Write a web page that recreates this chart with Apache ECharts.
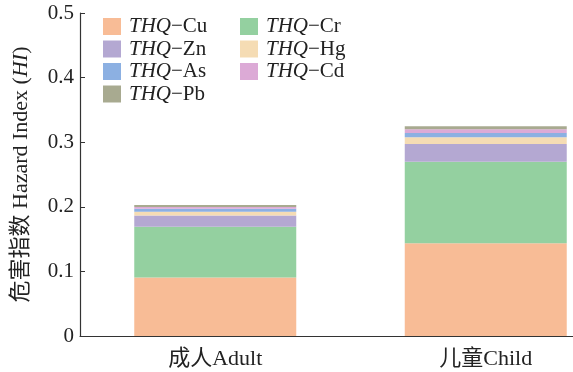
<!DOCTYPE html>
<html><head><meta charset="utf-8">
<script src="https://cdn.jsdelivr.net/npm/echarts@6/dist/echarts.min.js"></script>
<style>html,body{margin:0;padding:0;background:#fff}#c{width:573px;height:372px}</style>
</head><body><div id="c"></div>
<script>
const categories = ['成人Adult', '儿童Child'];
const seriesNames = ['THQ−Cu', 'THQ−Cr', 'THQ−Zn', 'THQ−Hg', 'THQ−As', 'THQ−Cd', 'THQ−Pb'];
const cuValues = [0.0906, 0.1435];
const crValues = [0.0787, 0.1261];
const znValues = [0.0174, 0.0278];
const hgValues = [0.0057, 0.0102];
const asValues = [0.0046, 0.0067];
const cdValues = [0.0026, 0.0056];
const pbValues = [0.0030, 0.0046];
const yTicks = [0, 0.1, 0.2, 0.3, 0.4, 0.5];

const colors = ['#f8bc96', '#94d0a0', '#b4a8d2', '#f5dcb4', '#8cb0e2', '#dcaad6', '#a8aa90'];
const allValues = [cuValues, crValues, znValues, hgValues, asValues, cdValues, pbValues];
const serif = '"Liberation Serif", "DejaVu Serif", "Noto Sans CJK SC", serif';

const chart = echarts.init(document.getElementById('c'));
const legendText = {
  fontFamily: serif, fontSize: 21, color: '#222',
  rich: {
    i: { fontFamily: serif, fontStyle: 'italic', fontSize: 21, color: '#222', padding: [0, 0, 0, 3] },
    n: { fontFamily: serif, fontSize: 21, color: '#222' }
  }
};
const legendFmt = name => '{i|THQ}{n|' + name.slice(3) + '}';
const legendBase = {
  orient: 'vertical', itemWidth: 18, itemHeight: 17, itemGap: 1.5, padding: 0,
  icon: 'rect', textStyle: legendText, formatter: legendFmt, selectedMode: false
};
chart.setOption({
  animation: false,
  color: colors,
  grid: { left: 80, width: 541, top: 13, bottom: 36, containLabel: false, outerBoundsMode: 'none' },
  legend: [
    Object.assign({ left: 103, top: 16, data: [seriesNames[0], seriesNames[2], seriesNames[4], seriesNames[6]] }, legendBase),
    Object.assign({ left: 240, top: 16, data: [seriesNames[1], seriesNames[3], seriesNames[5]] }, legendBase)
  ],
  xAxis: {
    type: 'category', data: categories,
    axisLine: { lineStyle: { color: '#333', width: 1.2 } },
    axisTick: { show: false },
    axisLabel: { fontFamily: serif, fontSize: 22, color: '#222', margin: 12 }
  },
  yAxis: {
    type: 'value', min: 0, max: 0.5, interval: 0.1,
    name: '{c|危害指数} {t|Hazard Index} {t|(}{i|HI}{t|)}',
    nameLocation: 'middle', nameGap: 48, nameRotate: 90,
    nameTextStyle: {
      fontFamily: serif, fontSize: 22, color: '#222',
      rich: {
        c: { fontFamily: serif, fontSize: 22, color: '#222' },
        t: { fontFamily: serif, fontSize: 22, color: '#222' },
        i: { fontFamily: serif, fontSize: 22, fontStyle: 'italic', color: '#222' }
      }
    },
    axisLine: { show: true, lineStyle: { color: '#333', width: 1.2 } },
    axisTick: { show: true, inside: true, length: 5, lineStyle: { color: '#333' } },
    splitLine: { show: false },
    axisLabel: {
      fontFamily: serif, fontSize: 21, color: '#222', margin: 6,
      formatter: v => { const t = yTicks.find(x => Math.abs(x - v) < 1e-9); return t === undefined ? '' : String(t); }
    }
  },
  series: seriesNames.map((n, i) => ({
    name: n, type: 'bar', stack: 'hi', barWidth: 162,
    data: allValues[i],
    itemStyle: { color: colors[i] }
  }))
});
</script>
</body></html>
